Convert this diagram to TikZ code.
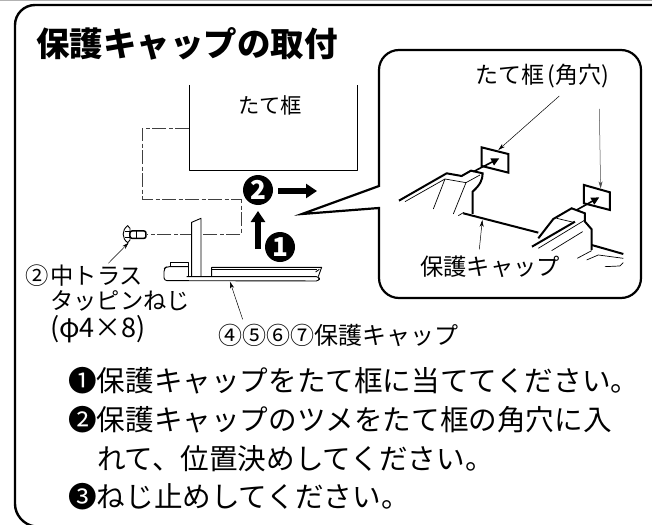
\documentclass[tikz,border=0pt]{standalone}
\usepackage{fontspec}
\setmainfont{Noto Sans CJK JP}
\usetikzlibrary{arrows.meta}
\tikzset{
 x=1pt,y=-1pt,
 frame/.style={line width=2.4pt,line join=round},
 thinl/.style={line width=.9pt,line join=round},
 hair/.style={line width=.7pt,line join=round},
 partl/.style={line width=2pt,line join=miter},
 centerl/.style={line width=.9pt,dash pattern=on 14pt off 2.5pt on 4pt off 2.5pt,black!75},
 lead/.style={line width=.5pt,-{Stealth[length=7pt,width=4pt]}},
 fat/.style={line width=6pt,-{Triangle[length=11pt,width=14pt]}},
 holearrow/.style={line width=1.6pt,-{Triangle[length=8pt,width=7.5pt]}},
 lab/.style={inner sep=0pt,font=\fontsize{21.3}{21.3}\selectfont},
 labb/.style={inner sep=0pt,anchor=west,font=\fontsize{23.3}{23.3}\selectfont},
 body/.style={inner sep=0pt,anchor=west,font=\fontsize{28.6}{28.6}\selectfont},
 badge/.style={circle,fill=black,text=white,inner sep=0pt,minimum size=30pt,font=\bfseries\fontsize{26}{26}\selectfont},
 zoomone/.style={shift={(0,60)},x=.3333pt,y=-.3333pt},
 zoomtwo/.style={shift={(290,40)},x=.3333pt,y=-.3333pt},
}
\begin{document}
\begin{tikzpicture}
\useasboundingbox (0,0) rectangle (652,524);
\fill[white] (0,0) rectangle (652,524);
\draw[black!30,line width=1pt] (0,0.5) -- (652,0.5);
\draw[frame,rounded corners=20pt] (652,5) -- (15,5) -- (15,524) -- (40,527);
\node[anchor=west,inner sep=0pt,font=\bfseries\fontsize{33.5}{33.5}\selectfont] (title) at (36,44) {保護キャップの取付};
% frame part
\coordinate (f1) at (189,85); \coordinate (f2) at (189,170); \coordinate (f3) at (357,170); \coordinate (f4) at (357,85);
\draw[thinl] (f1) -- (f2) -- (f3) -- (f4);
\node[lab] (framelabel) at (270,105) {たて框};
% centre line
\coordinate (c1) at (189,128); \coordinate (c2) at (142,128); \coordinate (c3) at (142,199);
\coordinate (c4) at (241,199); \coordinate (c5) at (241,234); \coordinate (c6) at (147,234);
\draw[centerl] (c1) -- (c2) -- (c3) -- (c4) -- (c5) -- (c6);
% callout
\draw[line width=2.2pt,line join=miter,fill=white,rounded corners=20pt]
 (379,186) -- (379,50) -- (641,50) -- (641,298) -- (379,298) [sharp corners] -- (379,208) -- (302,214) -- cycle;
% badges and arrows
\node[badge] (b2) at (258,190) {2};
\node[badge] (b1) at (280,247) {1};
\coordinate (ar2) at (317,191); \coordinate (ar2s) at (278,191);
\coordinate (ar1) at (258,211); \coordinate (ar1s) at (258,249);
\draw[fat] (ar2s) -- (ar2);
\draw[fat] (ar1s) -- (ar1);
% plate, screw
\begin{scope}[zoomone]
 \fill[white] (575,487) -- (603,475) -- (603,650) -- (575,650) -- cycle;
 \draw[thinl] (575,650) -- (575,487) -- (603,475) -- (603,650);
 \draw[thinl,rounded corners=3pt] (565,620) -- (500,620) -- (492,626) -- (492,662) -- (958,663) -- (958,650) -- (560,650);
 \draw[thinl] (512,620) -- (512,606) -- (565,606) -- (565,620) (565,620) -- (565,650);
 \draw[thinl] (635,650) -- (635,622) -- (965,622) -- (955,650);
 \draw[thinl] (635,629) -- (950,629);
 \draw[thinl] (958,628) -- (947,636);
 % screw
 \draw[thinl,fill=white] (383,497) .. controls (365,510) and (365,535) .. (383,548) -- (390,540) -- (390,505) -- cycle;
 \draw[thinl] (375,515) -- (390,515) (375,533) -- (390,533);
 \draw[line width=1.5pt,rounded corners=2pt,fill=white] (390,513) -- (438,513) -- (438,535) -- (390,535) -- cycle;
 \draw[thinl] (410,513) -- (410,535);
 \coordinate (lscrew) at (325,610); \coordinate (tscrew) at (386,548);
 \coordinate (lcap) at (728,778); \coordinate (tcap) at (690,665);
 \draw[lead] (lscrew) -- (tscrew);
 \draw[lead] (lcap) -- (tcap);
\end{scope}
\node[labb] (screw1) at (25,276) {②\hspace{2pt}中トラス};
\node[labb] (screw2) at (50,301) {タッピンねじ};
\node[inner sep=0pt,anchor=west,font=\fontsize{27}{27}\selectfont] (screw3) at (50,329) {(\textit{φ}4×8)};
\node[inner sep=0pt,anchor=west,font=\fontsize{24}{24}\selectfont] (caplabel) at (218,335) {④⑤⑥⑦保護キャップ};
% callout contents
\begin{scope}[zoomtwo]
 \coordinate (h1) at (625,330); \coordinate (h1s) at (808,168);
 \coordinate (h2) at (932,445); \coordinate (h2s) at (928,207);
 \coordinate (cl) at (577,540); \coordinate (cls) at (568,628);
 % holes
 \draw[partl] (575,322) -- (655,342) -- (655,398) -- (575,378) -- cycle;
 \draw[partl] (882,435) -- (960,457) -- (960,510) -- (882,490) -- cycle;
 \draw[holearrow] (550,395) -- (628,355);
 \draw[holearrow] (860,510) -- (928,472);
 \draw[lead] (h1s) -- (h1);
 \draw[lead,black!70] (h2s) -- (h2);
 \draw[lead] (cls) -- (cl);
 % left clip
 \draw[partl] (327,482) -- (470,400) -- (515,408) -- (543,392) -- (578,400) .. controls (578,420) and (570,435) .. (548,455) -- (548,522);
 \draw[partl] (520,520) -- (745,578);
 \draw[hair] (345,485) -- (465,417) -- (528,428) -- (570,405);
 \draw[hair] (465,417) -- (430,507) (528,428) -- (490,522) (505,527) -- (522,517);
 % right clip
 \draw[partl] (726,620) -- (855,545) (745,595) -- (790,537) -- (845,505) -- (885,520) -- (885,545) -- (905,568) -- (905,630);
 \draw[partl] (905,615) -- (1000,642);
 \draw[hair] (745,625) -- (885,540) (785,632) -- (878,575) (800,535) -- (855,548) (862,655) -- (905,632);
 \draw[hair] (890,660) -- (925,645) -- (1000,655);
 \draw[hair] (945,680) -- (990,678) -- (1000,668);
\end{scope}
\node[inner sep=0pt,font=\fontsize{23}{23}\selectfont] (holes) at (542.5,76) {たて框\hspace{3pt}(角穴)};
\node[labb] (caplab2) at (420,267) {保護キャップ};
% instructions
\node[body] (l1) at (68,381) {❶保護キャップをたて框に当ててください。};
\node[body] (l2) at (68,420) {❷保護キャップのツメをたて框の角穴に入};
\node[body] (l3) at (97,459) {れて、位置決めしてください。};
\node[body] (l4) at (68,497) {❸ねじ止めしてください。};
\end{tikzpicture}
\end{document}
